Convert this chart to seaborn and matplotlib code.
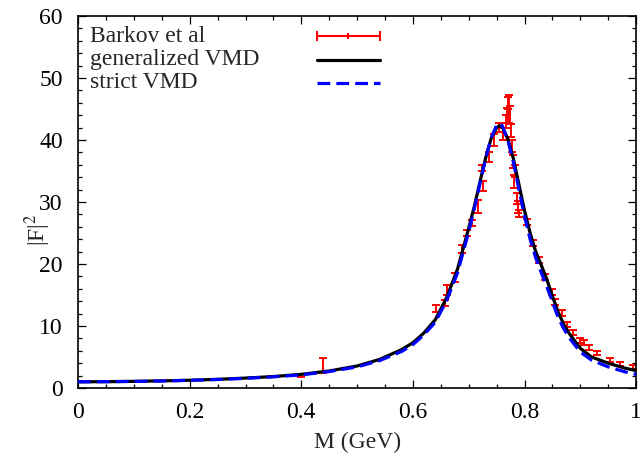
import matplotlib
matplotlib.use("Agg")
import matplotlib.pyplot as plt
from matplotlib.ticker import MultipleLocator, FuncFormatter
import seaborn as sns

# Barkov et al data: mass (GeV), |F|^2 and error
data_m = [0.400, 0.438, 0.642, 0.658, 0.661, 0.676, 0.688, 0.697, 0.706,
          0.717, 0.726, 0.724, 0.737, 0.745, 0.755, 0.762, 0.766, 0.768,
          0.770, 0.772, 0.774, 0.776, 0.778, 0.780, 0.781, 0.783, 0.787,
          0.789, 0.790, 0.805, 0.816, 0.826, 0.837, 0.849, 0.855, 0.867,
          0.876, 0.886, 0.900, 0.907, 0.916, 0.930, 0.953, 0.971, 0.995]
data_f2 = [2.0, 3.6, 12.8, 13.7, 15.8, 17.8, 22.4, 25.0, 26.6,
           29.3, 32.6, 35.5, 37.2, 40.0, 42.0, 41.0, 43.0, 44.0,
           46.0, 45.0, 44.0, 41.5, 39.0, 36.5, 33.3, 35.0, 30.5,
           29.2, 28.1, 26.8, 23.4, 20.6, 17.9, 15.5, 13.9, 12.1,
           10.3, 9.0, 7.7, 7.4, 6.5, 5.6, 4.5, 3.9, 3.4]
data_err = [0.3, 1.2, 0.6, 0.5, 0.8, 0.7, 0.7, 0.5, 0.5,
            1.0, 0.8, 0.5, 0.8, 1.0, 0.7, 1.0, 1.0, 1.2,
            1.0, 2.2, 1.5, 1.0, 1.0, 1.0, 1.0, 1.0, 0.9,
            1.0, 0.6, 0.5, 0.5, 0.5, 0.5, 0.5, 0.5, 0.5,
            0.4, 0.4, 0.4, 0.4, 0.4, 0.3, 0.3, 0.3, 0.3]

# model curves
curve_m = [0.0, 0.05, 0.1, 0.15, 0.2, 0.25, 0.3, 0.35, 0.4, 0.45, 0.5,
           0.54, 0.58, 0.6, 0.62, 0.64, 0.66, 0.68, 0.70, 0.71, 0.72,
           0.73, 0.74, 0.75, 0.755, 0.76, 0.77, 0.78, 0.79, 0.80, 0.81,
           0.82, 0.83, 0.84, 0.85, 0.86, 0.87, 0.88, 0.90, 0.92, 0.95,
           0.98, 1.0]
gen_vmd = [1.0, 1.02, 1.07, 1.15, 1.25, 1.4, 1.6, 1.85, 2.2, 2.75, 3.55,
           4.6, 6.2, 7.3, 8.9, 11.0, 14.5, 19.2, 25.8, 29.3, 33.2,
           37.0, 40.2, 42.0, 42.3, 42.1, 40.2, 37.0, 32.8, 28.6, 25.0,
           22.0, 19.8, 17.5, 14.8, 12.3, 10.3, 8.8, 6.4, 5.0, 4.0,
           3.2, 2.8]
strict_vmd = [1.0, 1.02, 1.06, 1.13, 1.23, 1.37, 1.56, 1.8, 2.12, 2.65, 3.4,
              4.4, 5.9, 7.0, 8.6, 10.6, 14.0, 18.6, 25.2, 28.9, 32.9,
              36.9, 40.3, 42.4, 42.7, 42.3, 40.0, 36.4, 32.0, 27.7, 24.0,
              21.0, 18.6, 16.3, 13.9, 11.4, 9.6, 8.1, 5.8, 4.5, 3.4,
              2.6, 2.2]

labels = ['Barkov et al', 'generalized VMD', 'strict VMD']

sns.set_theme(style="ticks")
plt.rcParams['font.family'] = ['Liberation Serif', 'DejaVu Serif']
plt.rcParams['mathtext.fontset'] = 'stix'
FS = 17

fig = plt.figure(figsize=(6.4, 4.57), dpi=100)
ax = fig.add_axes([0.122, 0.151, 0.872, 0.814])

ax.errorbar(data_m, data_f2, yerr=data_err, fmt='none', ecolor='red',
            elinewidth=1.4, capsize=3, capthick=1.4, zorder=2)
sns.lineplot(x=curve_m, y=gen_vmd, ax=ax, color='black', linewidth=2.3,
             sort=False, zorder=3)
sns.lineplot(x=curve_m, y=strict_vmd, ax=ax, color='blue', linewidth=2.3,
             sort=False, zorder=4)
ax.lines[-1].set_dashes([4, 1.9])

ax.set_xlim(0, 1)
ax.set_ylim(0, 60)
ax.xaxis.set_major_locator(MultipleLocator(0.2))
ax.xaxis.set_minor_locator(MultipleLocator(0.05))
ax.yaxis.set_major_locator(MultipleLocator(10))
ax.yaxis.set_minor_locator(MultipleLocator(2))
ax.xaxis.set_major_formatter(FuncFormatter(lambda v, p: '%g' % round(v, 2)))
ax.tick_params(which='both', direction='in', top=True, right=True,
               colors='black', width=0.9)
ax.tick_params(which='major', length=6, labelsize=FS)
ax.tick_params(which='minor', length=3)
ax.tick_params(axis='x', which='major', pad=10)
ax.tick_params(axis='y', which='major', pad=11)
for sp in ax.spines.values():
    sp.set_color('black')
    sp.set_linewidth(1.2)

ax.set_xlabel('M (GeV)', fontsize=FS)
ax.set_ylabel(r'|F|$^2$', fontsize=FS)
ax.xaxis.set_label_coords(0.5, -0.118)
ax.yaxis.set_label_coords(-0.045, 0.425)

# gnuplot style key: text left, sample at a fixed column to the right
row_y = [0.945, 0.882, 0.82]
tx, s0, s1 = 0.022, 0.428, 0.541
ax.text(tx, row_y[0], labels[0], transform=ax.transAxes, fontsize=FS,
        va='center', ha='left')
ax.plot([s0, s1], [row_y[0]] * 2, transform=ax.transAxes, color='red',
        lw=1.5, marker='|', markersize=7, markeredgewidth=1.5,
        markevery=[0, 1], clip_on=False)
ax.plot([(s0 + s1) / 2], [row_y[0]], transform=ax.transAxes, color='red',
        marker='|', markersize=5, markeredgewidth=1.5)
ax.text(tx, row_y[1], labels[1], transform=ax.transAxes, fontsize=FS,
        va='center', ha='left')
ax.plot([s0, s1], [row_y[1]] * 2, transform=ax.transAxes, color='black',
        lw=2.3)
ax.text(tx, row_y[2], labels[2], transform=ax.transAxes, fontsize=FS,
        va='center', ha='left')
ax.plot([s0, s1], [row_y[2]] * 2, transform=ax.transAxes, color='blue',
        lw=2.3, dashes=[4, 1.9])

fig.savefig('out.png', dpi=100)
